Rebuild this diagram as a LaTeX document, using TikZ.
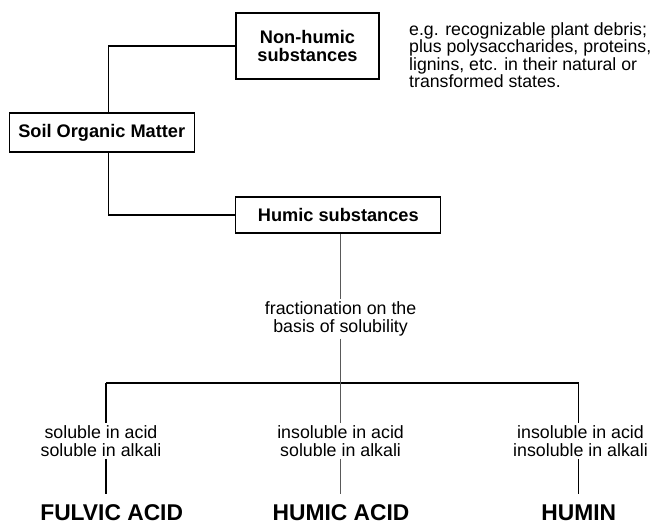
\documentclass[tikz,border=0pt]{standalone}
\usepackage{fontspec}
\setmainfont{Liberation Sans}

\begin{document}
\begin{tikzpicture}[x=1pt,y=-1pt,
  box/.style={draw,line width=1.1pt,inner sep=0pt,align=center,font=\fontsize{18.2}{17.8}\selectfont\bfseries},
  note/.style={inner sep=0pt,align=left,font=\fontsize{17.7}{17.4}\selectfont},
  cond/.style={inner sep=2pt,align=center,font=\fontsize{17.8}{18.3}\selectfont},
  acid/.style={inner sep=2pt,font=\fontsize{22.8}{23}\selectfont\bfseries},
  link/.style={line width=1.1pt},
  faint/.style={line width=0.6pt,black!65}]
  \useasboundingbox (0,0) rectangle (661,525);
  \node[box,minimum width=185pt,minimum height=39pt] (som) at (101.7,132.5) {Soil Organic Matter};
  \node[box,minimum width=143pt,minimum height=66pt] (nhs) at (307.5,46) {Non-humic\\substances};
  \node[box,minimum width=205pt,minimum height=36pt] (hs) at (338.3,215) {Humic substances};
  \node[note,anchor=west] (ex) at (409,55) {e.g. recognizable plant debris;\\plus polysaccharides, proteins,\\lignins, etc. in their natural or\\transformed states.};
  \draw[link] ([xshift=7pt]som.north) |- (nhs.west);
  \draw[link] ([xshift=7pt]som.south) |- (hs.west);
  \node[cond] (frac) at (340.6,319) {fractionation on the\\basis of solubility};
  \node[cond] (c1) at (101,441) {soluble in acid\\soluble in alkali};
  \node[cond] (c2) at (340.6,441) {insoluble in acid\\soluble in alkali};
  \node[cond] (c3) at (580.5,441) {insoluble in acid\\insoluble in alkali};
  \node[acid] (fa) at (111.7,513) {FULVIC ACID};
  \node[acid] (ha) at (341,513) {HUMIC ACID};
  \node[acid] (hu) at (578.7,513) {HUMIN};
  \coordinate (barL) at (106,383);
  \coordinate (barR) at (578.7,383);
  \draw[line width=1.4pt] (barL) -- (barR);
  \draw[link] (barL) -- (barL |- c1.north);
  \draw[link] (barR) -- (barR |- c3.north);
  \draw[faint] (frac.north |- hs.south) -- (frac.north);
  \draw[faint] (frac.south) -- (c2.north);
  \draw[link,shorten >=9pt] (barL |- c1.south) -- (barL |- fa.north);
  \draw[faint,shorten >=9pt] (c2.south) -- (c2.south |- ha.north);
  \draw[link,shorten >=9pt] (barR |- c3.south) -- (barR |- hu.north);
\end{tikzpicture}
\end{document}
